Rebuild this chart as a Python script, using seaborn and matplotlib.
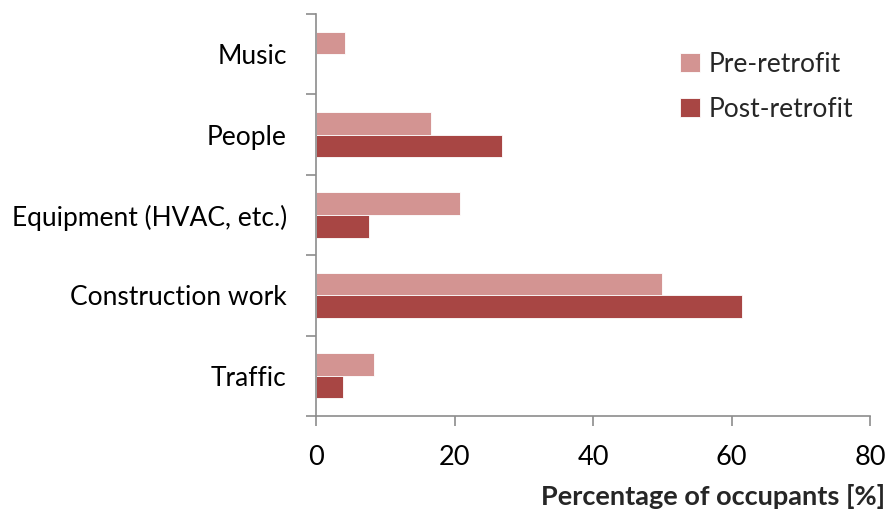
import seaborn as sns
import matplotlib.pyplot as plt
import pandas as pd

sources = ['Music', 'People', 'Equipment (HVAC, etc.)', 'Construction work', 'Traffic']
pre_retrofit = [4.17, 16.67, 20.83, 50.0, 8.33]
post_retrofit = [0.0, 26.92, 7.69, 61.54, 3.85]
periods = ['Pre-retrofit', 'Post-retrofit']
colors = ['#D39492', '#A84644']

df = pd.DataFrame({
    'source': sources * 2,
    'pct': pre_retrofit + post_retrofit,
    'period': [periods[0]] * len(sources) + [periods[1]] * len(sources),
})

sns.set_style('white')
plt.rcParams['font.family'] = ['Lato', 'DejaVu Sans']

fig = plt.figure(figsize=(8.91, 5.24), dpi=100)
ax = fig.add_axes([316 / 891, 1 - 416 / 524, 554 / 891, 402 / 524])

sns.barplot(data=df, y='source', x='pct', hue='period', order=sources,
            hue_order=periods, palette=colors, orient='h', width=0.56,
            edgecolor='white', linewidth=0.6, saturation=1, ax=ax)

ax.set_xlim(0, 80)
ax.set_ylim(len(sources) - 0.5, -0.5)
ax.set_xticks([0, 20, 40, 60, 80])
ax.set_xlabel('')
ax.set_ylabel('')

grey = '#8C8C8C'
for side in ['top', 'right']:
    ax.spines[side].set_visible(False)
for side in ['left', 'bottom']:
    ax.spines[side].set_color(grey)
    ax.spines[side].set_linewidth(1.2)

ax.set_yticks([i - 0.5 for i in range(len(sources) + 1)], minor=True)
ax.tick_params(axis='y', which='major', length=0, pad=21, labelsize=19, colors='black')
ax.tick_params(axis='y', which='minor', length=7, width=1.2, color=grey, direction='out', left=True)
ax.tick_params(axis='x', length=7, width=1.2, color=grey, direction='out', bottom=True,
               pad=14, labelsize=19.5, labelcolor='black')

fig.text(0.993, 1 - 505 / 524, 'Percentage of occupants [%]', ha='right', va='baseline',
         fontsize=19.5, fontweight='bold')

leg = ax.legend(loc='upper left', bbox_to_anchor=(0.615, 0.965), frameon=False,
                fontsize=19, handlelength=0.75, handleheight=0.75, handletextpad=0.3,
                labelspacing=0.75)

fig.savefig('out.png', dpi=100)
